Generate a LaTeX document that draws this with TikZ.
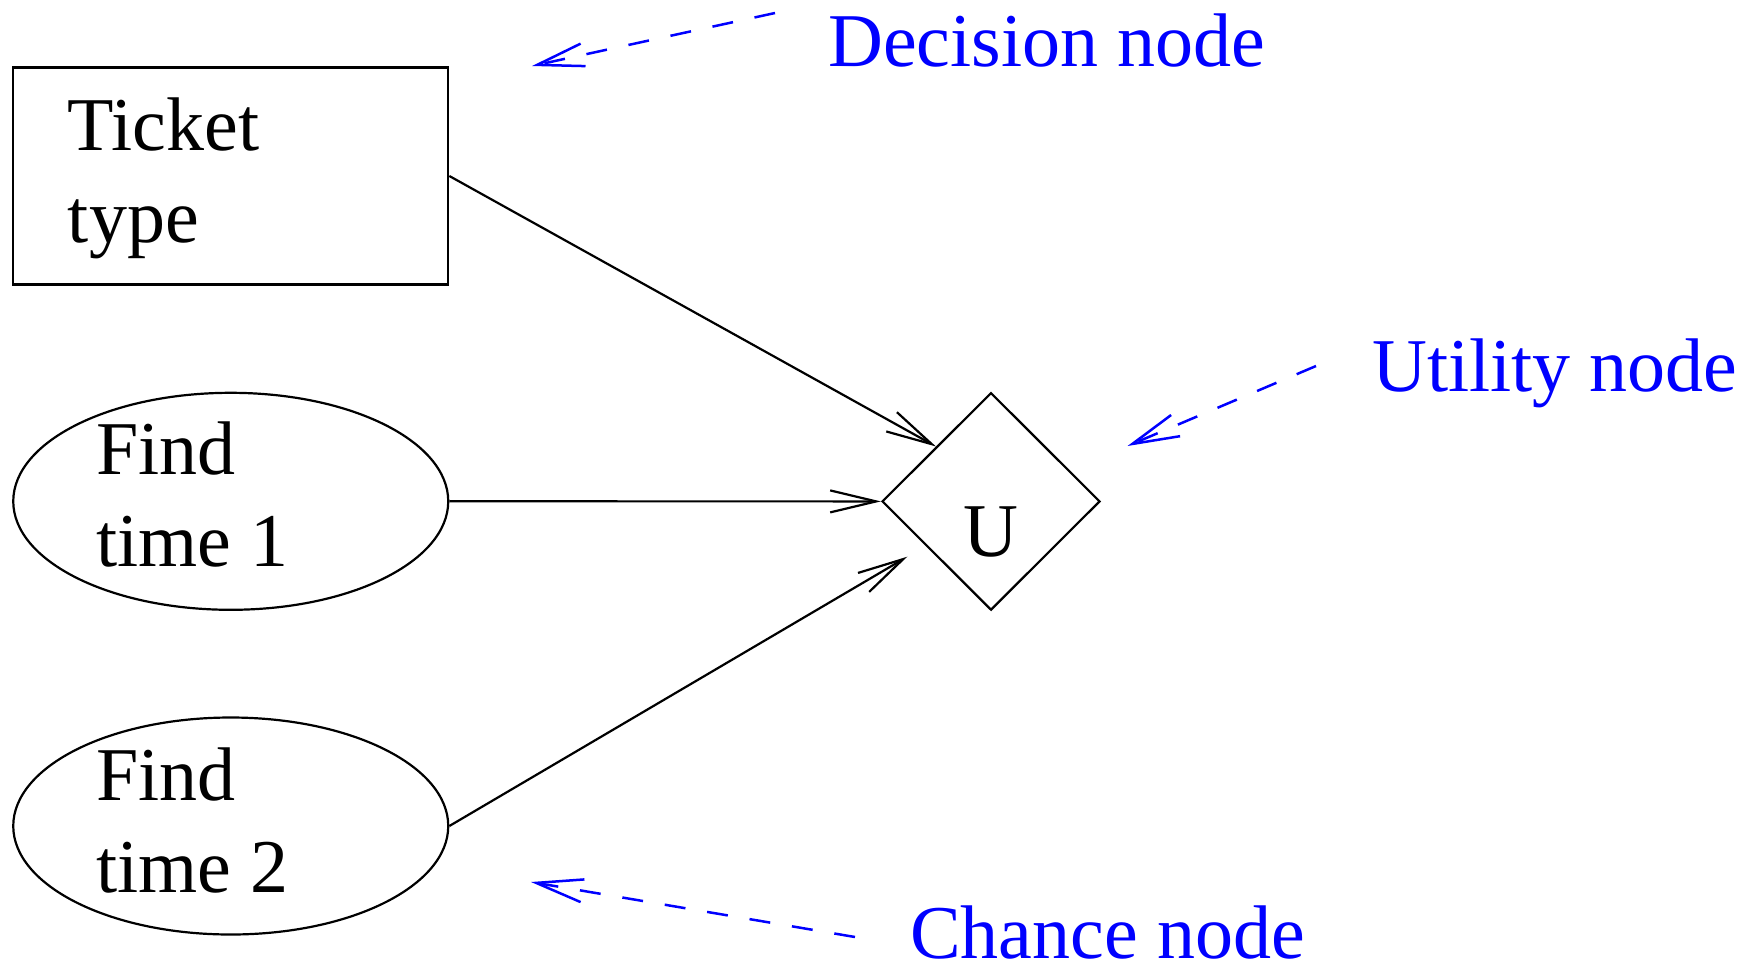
\documentclass[tikz,border=0pt]{standalone}
\usepackage{fontspec}
\setmainfont{Liberation Serif}
\usetikzlibrary{arrows.meta,shapes.geometric}
\begin{document}
\begin{tikzpicture}[x=1pt,y=-1pt,
  txt/.style={inner sep=0pt,anchor=base west,font=\fontsize{76}{92}\selectfont},
  note/.style={txt,text={rgb,255:red,0;green,0;blue,255}},
  shapebox/.style={draw,line width=2.2pt,inner sep=0pt,minimum width=435pt,minimum height=217pt},
  link/.style={line width=2.2pt,-{Straight Barb[length=46pt,width=22pt]}},
  pointer/.style={line width=2.5pt,draw={rgb,255:red,0;green,0;blue,255},dash pattern=on 21pt off 22pt,
    -{Straight Barb[length=47pt,width=23pt]}}]
\useasboundingbox (0,0) rectangle (1758,970);
% shapes
\node[shapebox,rectangle] (dec) at (230.75,176) {};
\node[shapebox,ellipse] (e1) at (230.75,501.3) {};
\node[shapebox,ellipse] (e2) at (230.75,826) {};
\node[draw,line width=2.2pt,diamond,inner sep=0pt,minimum width=218pt,minimum height=217.5pt] (U) at (991,501.4) {};
% texts inside shapes
\node[txt] (t1) at (67.7,150) {Ticket};
\node[txt] (t2) at (67.7,242) {type};
\node[txt] (f1) at (95.8,474) {Find};
\node[txt] (f2) at (95.8,566) {time 1};
\node[txt] (g1) at (95.8,800) {Find};
\node[txt] (g2) at (95.8,892) {time 2};
\node[txt,anchor=base] (ul) at (991.4,556) {U};
% labels
\node[note] (ldec) at (828,66.7) {Decision node};
\node[note] (lut) at (1372,391.7) {Utility node};
\node[note] (lch) at (910,958) {Chance node};
% connectors
\coordinate (t3) at (907.3,556.7);
\draw[link] (dec.east) -- (U.north west);
\draw[link] (e1.east) -- (U.west);
\draw[link] (e2.east) -- (t3);
% pointer arrows
\coordinate (ps1) at (775,13);
\coordinate (pe1) at (532,66);
\coordinate (ps2) at (1316,366);
\coordinate (pe2) at (1127.5,446);
\coordinate (ps3) at (855,937);
\coordinate (pe3) at (531,882);
\draw[pointer] (ps1) -- (pe1);
\draw[pointer] (ps2) -- (pe2);
\draw[pointer] (ps3) -- (pe3);
\end{tikzpicture}
\end{document}
